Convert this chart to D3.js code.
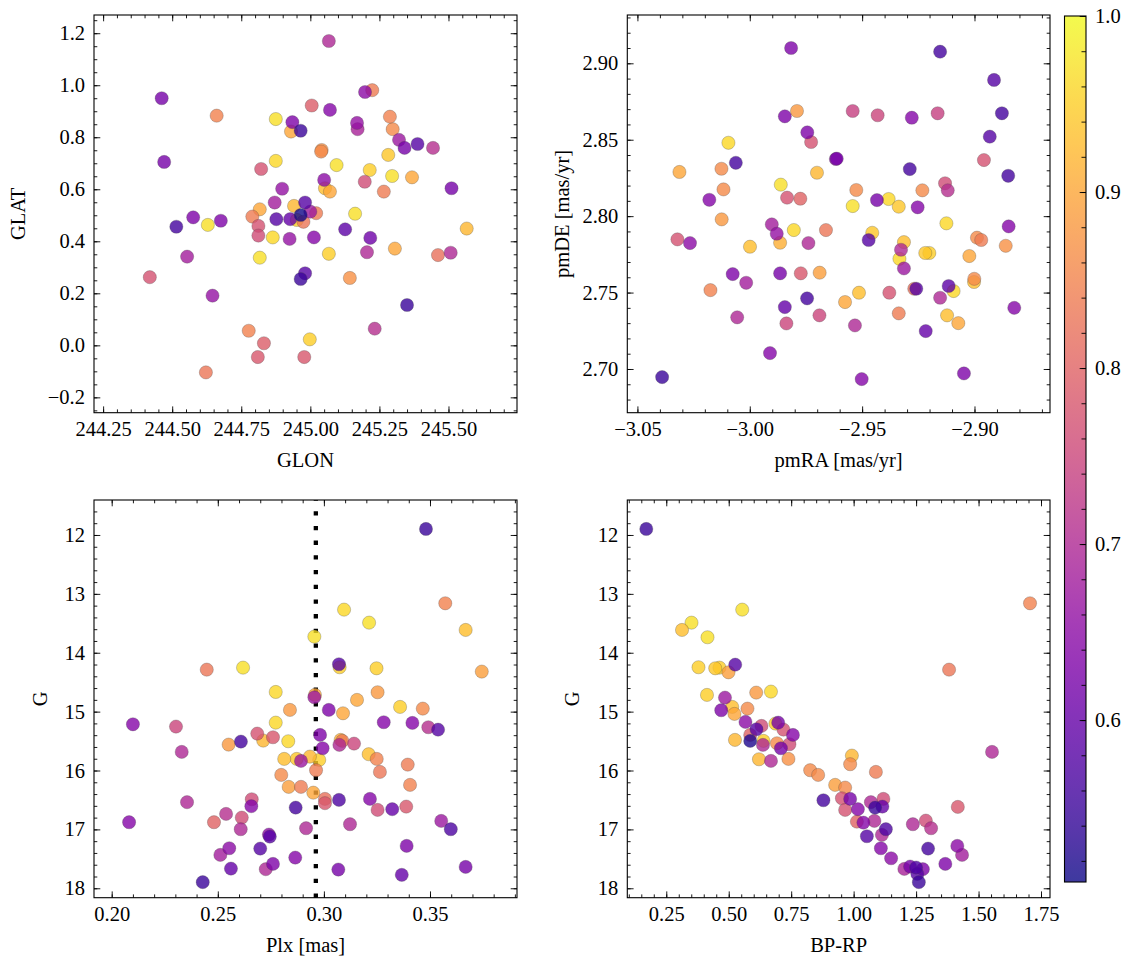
<!DOCTYPE html>
<html><head><meta charset="utf-8">
<script src="https://cdn.jsdelivr.net/npm/d3@7"></script>
<style>body{margin:0;background:#fff}</style>
</head><body><svg id="c" width="1133" height="965"></svg>
<script>
// ---- Panel 1: GLON / GLAT ----
const glon = [244.462,244.661,244.875,244.935,244.930,244.965,244.471,244.875,244.822,244.898,
 244.871,244.817,244.941,244.981,244.790,244.576,244.676,244.515,244.629,244.812,
 244.812,244.877,244.927,244.951,244.965,244.975,244.864,244.925,244.554,244.817,
 244.981,244.965,244.419,244.646,244.777,244.832,244.810,244.978,244.998,244.622,
 245.005,245.067,245.198,245.224,245.071,245.169,245.171,245.288,245.298,245.321,
 245.341,245.388,245.444,245.041,245.039,245.095,245.282,245.215,245.296,245.368,
 245.197,245.050,245.053,245.071,245.266,245.511,245.162,245.021,245.000,245.126,
 245.013,245.217,245.566,245.067,245.205,245.306,245.462,245.508,245.143,245.350,
 245.233];
const glat = [0.950,0.883,0.870,0.858,0.822,0.825,0.705,0.709,0.678,0.602,
 0.549,0.523,0.536,0.549,0.495,0.492,0.479,0.456,0.463,0.459,
 0.422,0.485,0.485,0.482,0.501,0.475,0.415,0.409,0.341,0.337,
 0.277,0.255,0.262,0.191,0.056,0.008,-0.045,-0.045,0.023,-0.104,
 0.922,1.170,0.974,0.981,0.905,0.855,0.831,0.879,0.831,0.790,
 0.759,0.774,0.759,0.751,0.745,0.693,0.732,0.674,0.651,0.646,
 0.629,0.636,0.604,0.591,0.591,0.604,0.506,0.508,0.514,0.446,
 0.415,0.413,0.449,0.352,0.358,0.372,0.347,0.356,0.259,0.155,
 0.064];
const probPos = [0.62,0.85,0.97,0.63,0.90,0.55,0.62,0.96,0.77,0.66,
 0.68,0.90,0.92,0.58,0.84,0.63,0.63,0.56,0.97,0.77,
 0.76,0.58,0.60,0.95,0.51,0.83,0.96,0.66,0.68,0.97,
 0.58,0.55,0.77,0.66,0.85,0.79,0.78,0.78,0.95,0.83,
 0.79,0.70,0.65,0.84,0.64,0.66,0.69,0.85,0.86,0.67,
 0.62,0.58,0.71,0.87,0.86,0.97,0.94,0.95,0.97,0.90,
 0.76,0.65,0.93,0.90,0.84,0.62,0.97,0.84,0.67,0.59,
 0.64,0.61,0.92,0.95,0.70,0.90,0.82,0.70,0.87,0.55,
 0.71];

// ---- Panel 2: proper motions ----
const pmra = [-2.9816,-2.9844,-2.9790,-2.9744,-2.9727,-3.0095,-3.0062,-3.0313,-3.0126,-3.0117,
 -3.0180,-3.0125,-3.0322,-3.0266,-2.9999,-2.9865,-2.9902,-2.9880,-2.9862,-2.9834,
 -2.9775,-2.9804,-2.9739,-2.9661,-2.9701,-2.9617,-2.9613,-3.0076,-3.0016,-3.0175,
 -2.9865,-2.9773,-2.9689,-2.9745,-2.9844,-3.0056,-2.9837,-2.9690,-2.9910,-3.0390,
 -2.9576,-2.9153,-2.8913,-2.8878,-2.8932,-2.8850,-2.9542,-2.9431,-2.9279,-2.9164,
 -2.8958,-2.9288,-2.9526,-2.9542,-2.9434,-2.9382,-2.9337,-2.9253,-2.9232,-2.9131,
 -2.9119,-2.9125,-2.8848,-2.9455,-2.9471,-2.9314,-2.9327,-2.9334,-2.9314,-2.9219,
 -2.9201,-2.8989,-2.8970,-2.9023,-2.8861,-2.9001,-2.9002,-2.9259,-2.9268,-2.9115,
 -2.9093,-2.9153,-2.9379,-2.9514,-2.9337,-2.9122,-2.9072,-2.9532,-2.9217,-2.8823,
 -2.9502,-2.9047];
const pmde = [2.9100,2.8653,2.8688,2.8548,2.8485,2.8480,2.8349,2.8289,2.8310,2.8175,
 2.8107,2.7979,2.7848,2.7824,2.7800,2.7826,2.7946,2.7885,2.8206,2.8121,
 2.8114,2.7909,2.7824,2.7909,2.8284,2.8374,2.8376,2.7621,2.7564,2.7516,
 2.7626,2.7626,2.7630,2.7462,2.7405,2.7338,2.7298,2.7351,2.7104,2.6947,
 2.7438,2.9076,2.8891,2.8673,2.8520,2.8264,2.8688,2.8660,2.8644,2.8673,
 2.8367,2.8308,2.8171,2.8066,2.8105,2.8112,2.8062,2.8058,2.8169,2.8215,
 2.8169,2.7953,2.7933,2.7891,2.7844,2.7830,2.7780,2.7721,2.7658,2.7759,
 2.7759,2.7859,2.7844,2.7739,2.7806,2.7590,2.7569,2.7525,2.7525,2.7543,
 2.7510,2.7466,2.7499,2.7499,2.7364,2.7351,2.7300,2.7285,2.7248,2.7400,
 2.6934,2.6971];
const probPM = [0.63,0.63,0.88,0.63,0.77,0.96,0.56,0.90,0.86,0.86,
 0.64,0.88,0.77,0.65,0.93,0.91,0.68,0.66,0.97,0.77,
 0.80,0.96,0.70,0.83,0.92,0.65,0.62,0.63,0.68,0.85,
 0.62,0.78,0.89,0.56,0.60,0.70,0.75,0.75,0.64,0.55,
 0.90,0.56,0.58,0.56,0.58,0.56,0.74,0.75,0.64,0.74,
 0.77,0.56,0.86,0.97,0.62,0.96,0.94,0.64,0.86,0.76,
 0.71,0.96,0.64,0.94,0.58,0.93,0.70,0.96,0.67,0.94,
 0.95,0.86,0.84,0.90,0.87,0.86,0.93,0.58,0.82,0.59,
 0.96,0.70,0.77,0.93,0.84,0.93,0.90,0.70,0.60,0.64,
 0.64,0.63];

// ---- Panel 3: parallax / G ----
const plx = [0.2448,0.2619,0.2773,0.2840,0.2773,0.2100,0.2303,0.2330,0.2551,0.2609,
 0.2686,0.2714,0.2760,0.2832,0.2813,0.2872,0.2892,0.2799,0.2834,0.2892,
 0.2355,0.2660,0.2658,0.2867,0.2082,0.2482,0.2539,0.2613,0.2608,0.2916,
 0.2741,0.2745,0.2700,0.2554,0.2512,0.2562,0.2726,0.2760,0.2865,0.2429,
 0.3481,0.3572,0.3095,0.3213,0.3668,0.2955,0.3744,0.3071,0.3074,0.3248,
 0.3253,0.2958,0.2955,0.3156,0.3023,0.3090,0.3359,0.3466,0.3282,0.3417,
 0.3492,0.3538,0.2982,0.3079,0.3087,0.3073,0.3142,0.2994,0.2934,0.2978,
 0.2963,0.3211,0.3249,0.3264,0.3395,0.3406,0.2950,0.3005,0.3005,0.3071,
 0.3217,0.3253,0.3322,0.3388,0.3123,0.3553,0.3598,0.3390,0.3668,0.3068,
 0.3367];
const gPlx = [14.287,14.253,14.666,14.971,15.187,15.215,15.254,15.684,15.560,15.509,
 15.373,15.492,15.435,15.503,15.803,15.803,15.837,16.075,16.278,16.278,
 16.538,16.488,16.606,16.630,16.878,16.878,16.737,16.800,16.997,16.980,
 17.088,17.122,17.326,17.320,17.433,17.666,17.676,17.586,17.479,17.896,
 11.898,13.160,13.268,13.489,13.613,13.726,14.320,14.195,14.246,14.264,
 14.671,14.716,14.756,14.801,14.971,15.028,14.920,14.949,15.180,15.192,
 15.265,15.306,15.396,15.480,15.497,15.565,15.543,15.622,15.764,15.820,
 15.995,15.723,15.803,16.024,15.900,16.244,16.376,16.482,16.555,16.499,
 16.482,16.669,16.657,16.613,16.912,16.856,16.997,17.280,17.637,17.682,
 17.772];
const probPlx = [0.83,0.97,0.96,0.88,0.96,0.64,0.75,0.70,0.88,0.56,
 0.77,0.92,0.78,0.96,0.93,0.94,0.67,0.86,0.89,0.84,
 0.70,0.76,0.64,0.56,0.64,0.80,0.71,0.76,0.70,0.70,
 0.65,0.58,0.58,0.65,0.68,0.60,0.70,0.63,0.64,0.55,
 0.55,0.85,0.96,0.97,0.93,0.97,0.89,0.58,0.95,0.95,
 0.88,0.90,0.67,0.90,0.63,0.90,0.95,0.86,0.64,0.64,
 0.71,0.58,0.63,0.91,0.84,0.70,0.75,0.64,0.92,0.95,
 0.84,0.93,0.85,0.83,0.84,0.85,0.90,0.82,0.78,0.57,
 0.64,0.76,0.60,0.78,0.70,0.67,0.57,0.63,0.62,0.62,
 0.60];
const plxLine = 0.2962;

// ---- Panel 4: colour-magnitude ----
const bprp = [0.170,0.554,0.351,0.313,0.415,0.379,0.446,0.463,0.499,0.526,
 0.610,0.669,0.413,0.485,0.514,0.470,0.523,0.575,0.567,0.631,
 0.611,0.687,0.698,0.719,0.757,0.586,0.586,0.639,0.525,0.637,
 0.693,0.743,0.709,0.621,0.669,0.739,0.826,0.858,0.879,1.706,
 1.382,1.554,0.993,0.986,1.089,0.926,0.966,0.953,0.986,0.966,
 1.017,1.069,1.119,1.086,1.115,1.013,1.039,1.083,1.129,1.113,
 1.053,1.109,1.150,1.237,1.289,1.310,1.417,1.298,1.415,1.434,
 1.367,1.203,1.226,1.250,1.277,1.255,1.261];
const gCmd = [11.898,13.268,13.489,13.613,13.737,14.246,14.264,14.253,14.332,14.202,
 14.677,14.660,14.716,14.762,14.920,14.976,15.039,14.949,15.175,15.243,
 15.299,15.203,15.187,15.305,15.396,15.396,15.497,15.497,15.480,15.565,
 15.537,15.554,15.622,15.809,15.837,15.803,15.995,16.075,16.505,13.160,
 14.287,15.684,15.747,15.893,16.024,16.244,16.290,16.471,16.482,16.669,
 16.657,16.538,16.482,16.630,16.613,16.868,16.885,16.856,16.997,17.093,
 17.116,17.320,17.490,16.912,16.851,16.980,16.618,17.326,17.280,17.433,
 17.586,17.671,17.631,17.648,17.676,17.756,17.896];
const probCmd = [0.55,0.97,0.97,0.93,0.97,0.95,0.94,0.95,0.89,0.58,
 0.88,0.96,0.95,0.67,0.93,0.63,0.90,0.86,0.65,0.76,
 0.58,0.95,0.62,0.77,0.64,0.80,0.52,0.95,0.92,0.70,
 0.86,0.76,0.62,0.92,0.70,0.87,0.86,0.86,0.56,0.85,
 0.83,0.70,0.92,0.86,0.84,0.89,0.86,0.77,0.62,0.77,
 0.64,0.70,0.76,0.55,0.60,0.80,0.64,0.70,0.57,0.70,
 0.58,0.64,0.65,0.70,0.76,0.71,0.78,0.56,0.65,0.68,
 0.63,0.69,0.62,0.57,0.63,0.58,0.55];

// ---- tick labels ----
const glonTicks = [244.25,244.50,244.75,245.00,245.25,245.50];
const glatTicks = [-0.2,0.0,0.2,0.4,0.6,0.8,1.0,1.2];
const pmraTicks = [-3.05,-3.00,-2.95,-2.90];
const pmdeTicks = [2.70,2.75,2.80,2.85,2.90];
const plxTicks = [0.20,0.25,0.30,0.35];
const gTicks = [12,13,14,15,16,17,18];
const bprpTicks = [0.25,0.50,0.75,1.00,1.25,1.50,1.75];
const cbarTicks = [0.6,0.7,0.8,0.9,1.0];
const probMin = 0.508, probMax = 1.0;

// ---------------- drawing ----------------
const FONT = '"Liberation Serif", "Times New Roman", serif';
const FS = 20.5;
const svg = d3.select('#c');
const cnorm = d3.scaleLinear().domain([probMin, probMax]).range([0,1]).clamp(true);
const color = p => d3.interpolatePlasma(cnorm(p));
const minus = s => s.replace('-', '\u2212');

function minorTicks(dom, step) {
  const lo = Math.min(dom[0], dom[1]), hi = Math.max(dom[0], dom[1]);
  return d3.range(Math.ceil(lo/step - 1e-9), Math.floor(hi/step + 1e-9) + 1).map(k => +(k*step).toFixed(6));
}

function panel(cfg) {
  const {x0, x1, y0, y1} = cfg.box;
  const x = d3.scaleLinear().domain(cfg.xd).range([x0, x1]);
  const y = d3.scaleLinear().domain(cfg.yd).range([y1, y0]);
  const g = svg.append('g');

  if (cfg.vline !== undefined) {
    g.append('line').attr('x1', x(cfg.vline)).attr('x2', x(cfg.vline))
      .attr('y1', y1).attr('y2', y0)
      .attr('stroke', '#000').attr('stroke-width', 4.3).attr('stroke-dasharray', '4.3 10.4');
  }

  const order = d3.range(Math.min(cfg.xs.length, cfg.ys.length, cfg.p.length))
    .sort((a, b) => cfg.p[b] - cfg.p[a]);
  g.append('g').selectAll('circle').data(order).join('circle')
    .attr('cx', i => x(cfg.xs[i])).attr('cy', i => y(cfg.ys[i]))
    .attr('r', 6.6)
    .attr('fill', i => color(cfg.p[i])).attr('fill-opacity', 0.8)
    .attr('stroke', '#444').attr('stroke-opacity', 0.55).attr('stroke-width', 0.5);

  const MAJ = 6.3, MIN = 3.3;
  const mk = (fn, sc, vals, size, fmt, tx, ty) => {
    const a = fn(sc).tickValues(vals).tickSize(-size).tickPadding(9)
      .tickFormat(fmt ? fmt : () => '');
    const gg = g.append('g').attr('transform', `translate(${tx},${ty})`).call(a);
    gg.select('.domain').remove();
    gg.selectAll('line').attr('stroke', '#000').attr('stroke-width', 0.9);
    gg.selectAll('text').attr('font-size', FS).attr('font-family', FONT).attr('fill', '#000');
    return gg;
  };
  const xMin = minorTicks(cfg.xd, cfg.xStep), yMin = minorTicks(cfg.yd, cfg.yStep);
  mk(d3.axisBottom, x, cfg.xt, MAJ, cfg.xf, 0, y1);
  mk(d3.axisBottom, x, xMin, MIN, null, 0, y1);
  mk(d3.axisTop, x, cfg.xt, MAJ, null, 0, y0);
  mk(d3.axisTop, x, xMin, MIN, null, 0, y0);
  mk(d3.axisLeft, y, cfg.yt, MAJ, cfg.yf, x0, 0);
  mk(d3.axisLeft, y, yMin, MIN, null, x0, 0);
  mk(d3.axisRight, y, cfg.yt, MAJ, null, x1, 0);
  mk(d3.axisRight, y, yMin, MIN, null, x1, 0);

  g.append('rect').attr('x', x0).attr('y', y0).attr('width', x1 - x0).attr('height', y1 - y0)
    .attr('fill', 'none').attr('stroke', '#000').attr('stroke-width', 1.1);

  g.append('text').attr('x', (x0 + x1) / 2).attr('y', y1 + 54.5)
    .attr('text-anchor', 'middle').attr('font-size', FS).attr('font-family', FONT).text(cfg.xl);
  g.append('text').attr('transform', `translate(${cfg.ylx},${(y0 + y1) / 2}) rotate(-90)`)
    .attr('text-anchor', 'middle').attr('font-size', FS).attr('font-family', FONT).text(cfg.yl);
}

const fmt2 = v => minus(d3.format('.2f')(v));
const fmt1 = v => minus(d3.format('.1f')(v));
const fmt0 = v => d3.format('d')(v);

panel({box:{x0:94, x1:517, y0:15, y1:412.7}, xd:[244.217, 245.748], yd:[-0.259, 1.270],
  xs:glon, ys:glat, p:probPos, xt:glonTicks, yt:glatTicks, xf:fmt2, yf:fmt1,
  xStep:0.05, yStep:0.05, xl:'GLON', yl:'GLAT', ylx:25});
panel({box:{x0:627.3, x1:1050, y0:15, y1:412.7}, xd:[-3.0545, -2.8664], yd:[2.6714, 2.9316],
  xs:pmra, ys:pmde, p:probPM, xt:pmraTicks, yt:pmdeTicks, xf:fmt2, yf:fmt2,
  xStep:0.01, yStep:0.01, xl:'pmRA [mas/yr]', yl:'pmDE [mas/yr]', ylx:569});
panel({box:{x0:94, x1:517, y0:500, y1:897.7}, xd:[0.19166, 0.391], yd:[18.16, 11.406],
  xs:plx, ys:gPlx, p:probPlx, xt:plxTicks, yt:gTicks, xf:fmt2, yf:fmt0,
  xStep:0.01, yStep:0.2, xl:'Plx [mas]', yl:'G', ylx:47, vline:plxLine});
panel({box:{x0:627.3, x1:1050, y0:500, y1:897.7}, xd:[0.094, 1.786], yd:[18.16, 11.406],
  xs:bprp, ys:gCmd, p:probCmd, xt:bprpTicks, yt:gTicks, xf:fmt2, yf:fmt0,
  xStep:0.05, yStep:0.2, xl:'BP-RP', yl:'G', ylx:579});

// ---- colourbar ----
(function(){
  const cx0 = 1064.5, cx1 = 1086, cy0 = 16, cy1 = 882;
  const cy = d3.scaleLinear().domain([probMin, probMax]).range([cy1, cy0]);
  const defs = svg.append('defs');
  const lg = defs.append('linearGradient').attr('id', 'cbg')
    .attr('x1', 0).attr('y1', 1).attr('x2', 0).attr('y2', 0);
  d3.range(0, 1.0001, 0.05).forEach(t => {
    lg.append('stop').attr('offset', t).attr('stop-color', d3.interpolatePlasma(t)).attr('stop-opacity', 0.8);
  });
  svg.append('rect').attr('x', cx0).attr('y', cy0).attr('width', cx1 - cx0).attr('height', cy1 - cy0)
    .attr('fill', 'url(#cbg)');
  const g = svg.append('g');
  const a1 = d3.axisRight(cy).tickValues(cbarTicks).tickSize(-6.3).tickPadding(9).tickFormat(fmt1);
  const ga = g.append('g').attr('transform', `translate(${cx1},0)`).call(a1);
  const mins = minorTicks([probMin, probMax], 0.02);
  const a2 = d3.axisRight(cy).tickValues(mins).tickSize(-4.5).tickFormat(() => '');
  const gb = g.append('g').attr('transform', `translate(${cx1},0)`).call(a2);
  [ga, gb].forEach(s => {
    s.select('.domain').remove();
    s.selectAll('line').attr('stroke', '#000').attr('stroke-width', 0.9);
    s.selectAll('text').attr('font-size', FS).attr('font-family', FONT).attr('fill', '#000');
  });
  svg.append('rect').attr('x', cx0).attr('y', cy0).attr('width', cx1 - cx0).attr('height', cy1 - cy0)
    .attr('fill', 'none').attr('stroke', '#000').attr('stroke-width', 1.1);
})();
</script>
</body></html>
